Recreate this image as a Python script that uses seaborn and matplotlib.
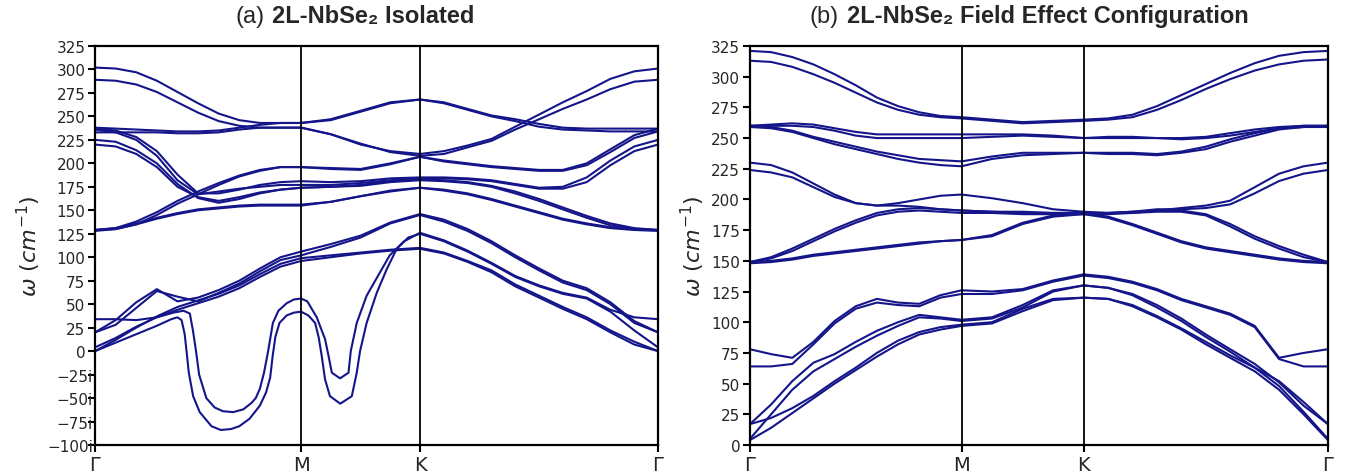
import pandas as pd
import matplotlib
matplotlib.use("Agg")
import matplotlib.pyplot as plt
import seaborn as sns

# high-symmetry points along the path (reciprocal distance)
HS_POS = [0.0, 1.0, 1.577, 2.732]
HS_LABELS = ["Γ", "M", "K", "Γ"]

# common q sampling along Γ-M-K-Γ
Q_GRID = [0.0, 0.1, 0.2, 0.3, 0.4, 0.5, 0.6, 0.7, 0.8, 0.9, 1.0,
          1.144, 1.289, 1.433, 1.577,
          1.693, 1.808, 1.924, 2.039, 2.155, 2.270, 2.386, 2.501, 2.617, 2.732]

# ---- (a) isolated bilayer: bands on the common grid (cm^-1) ----
iso_top1 = [302, 301, 297, 288, 276, 264, 253, 246, 243, 243, 243, 247, 256, 265, 268, 265, 258, 251, 247, 242, 238, 237, 237, 237, 237]
iso_flat1 = [238, 237, 236, 235, 234, 234, 235, 238, 241, 243, 243, 246, 255, 264, 268, 264, 257, 250, 245, 239, 236, 235, 234, 234, 234]
iso_top2 = [289, 288, 284, 276, 265, 254, 245, 240, 238, 238, 238, 231, 220, 213, 210, 213, 219, 226, 239, 252, 265, 277, 290, 298, 301]
iso_flat2 = [233, 233, 233, 233, 232, 232, 233, 236, 238, 238, 238, 231, 221, 212, 208, 210, 217, 224, 236, 247, 258, 268, 279, 287, 289]
iso_r1 = [129, 131, 138, 148, 160, 170, 179, 187, 193, 196, 196, 195, 194, 200, 207, 203, 200, 197, 195, 193, 193, 200, 215, 230, 237]
iso_r2 = [129, 130, 135, 145, 157, 167, 177, 186, 192, 196, 196, 194, 193, 199, 207, 202, 199, 196, 194, 192, 192, 198, 212, 227, 234]
iso_d1 = [237, 235, 228, 213, 188, 168, 168, 172, 177, 180, 181, 180, 181, 184, 185, 185, 184, 182, 178, 174, 175, 185, 203, 218, 225]
iso_d2 = [236, 233, 225, 208, 182, 167, 170, 173, 175, 177, 177, 177, 179, 182, 184, 184, 183, 181, 177, 173, 173, 180, 198, 213, 220]
iso_d3 = [225, 223, 214, 200, 178, 163, 158, 162, 168, 172, 174, 175, 177, 181, 183, 182, 180, 176, 170, 162, 153, 144, 136, 131, 129]
iso_d4 = [220, 218, 210, 196, 175, 164, 160, 164, 169, 172, 174, 175, 176, 180, 182, 181, 179, 175, 168, 160, 151, 142, 134, 130, 129]
iso_s1 = [129, 131, 136, 142, 147, 151, 153, 155, 156, 156, 156, 159, 165, 171, 174, 172, 168, 162, 155, 148, 141, 136, 132, 130, 129]
iso_s2 = [128, 130, 135, 141, 146, 150, 152, 154, 155, 155, 155, 159, 165, 170, 174, 171, 167, 161, 154, 147, 140, 135, 131, 129, 128]
iso_l1 = [20, 33, 52, 66, 53, 57, 65, 75, 88, 100, 106, 114, 123, 137, 146, 140, 130, 117, 102, 88, 75, 67, 52, 32, 20]
iso_l2 = [20, 28, 46, 64, 58, 53, 62, 72, 85, 97, 102, 111, 121, 136, 145, 138, 128, 115, 100, 86, 73, 65, 50, 30, 20]
iso_l3 = [0, 12, 25, 37, 47, 54, 61, 70, 82, 93, 99, 102, 105, 108, 110, 105, 96, 86, 71, 59, 47, 36, 22, 10, 0]
iso_l4 = [4, 14, 26, 36, 44, 51, 58, 67, 79, 90, 96, 100, 104, 107, 109, 104, 95, 84, 69, 57, 45, 34, 20, 7, 0]

# soft (imaginary, drawn negative) branches need their own, denser sampling
soft_outer_q = [0.0, 0.1, 0.2, 0.3, 0.37, 0.40, 0.42, 0.435, 0.444, 0.455,
                0.476, 0.508, 0.565, 0.61, 0.66, 0.70, 0.75, 0.80, 0.83, 0.85,
                0.862, 0.875, 0.895, 0.93, 0.965, 1.0,
                1.035, 1.068, 1.085, 1.10, 1.116, 1.14, 1.19, 1.246, 1.27, 1.286,
                1.318, 1.367, 1.415, 1.464, 1.52, 1.577,
                1.693, 1.808, 1.924, 2.039, 2.155, 2.270, 2.386, 2.501, 2.617, 2.732]
soft_outer_w = [0, 9, 18, 27, 34, 36, 33, 18, 0, -23,
                -48, -65, -80, -84, -83, -80, -72, -58, -44, -28,
                -5, 15, 30, 38, 41, 42,
                38, 30, 15, -5, -30, -48, -56, -48, -23, 0,
                30, 62, 87, 109, 121, 125,
                117, 106, 93, 79, 69, 61, 56, 42, 22, 4]
soft_inner_q = [0.0, 0.1, 0.2, 0.3, 0.38, 0.43, 0.46, 0.475, 0.49, 0.505,
                0.54, 0.58, 0.62, 0.67, 0.72, 0.76, 0.78, 0.80, 0.82, 0.84,
                0.863, 0.89, 0.93, 0.965, 1.0,
                1.03, 1.076, 1.10, 1.116, 1.133, 1.149, 1.189, 1.23, 1.241, 1.27,
                1.318, 1.383, 1.43, 1.50, 1.577,
                1.693, 1.808, 1.924, 2.039, 2.155, 2.270, 2.386, 2.501, 2.617, 2.732]
soft_inner_w = [34, 34, 33, 36, 41, 43, 40, 22, 0, -25,
                -50, -60, -64, -65, -62, -55, -50, -40, -23, 0,
                30, 43, 51, 55, 56,
                53, 36, 22, 13, -5, -23, -29, -23, 0, 30,
                59, 84, 102, 117, 126,
                118, 107, 94, 80, 70, 62, 57, 44, 36, 34]

# ---- (b) field effect configuration ----
fe_r1 = [321, 320, 316, 310, 302, 293, 283, 276, 271, 268, 267, 265, 263, 264, 265, 266, 269, 276, 285, 294, 303, 311, 317, 320, 321]
fe_r2 = [313, 312, 308, 302, 295, 287, 279, 273, 269, 267, 266, 264, 262, 263, 264, 265, 267, 273, 281, 290, 298, 305, 310, 313, 314]
fe_u1 = [260, 261, 262, 261, 258, 255, 253, 253, 253, 253, 253, 253, 253, 252, 250, 251, 251, 250, 250, 251, 254, 257, 259, 260, 260]
fe_u2 = [260, 260, 260, 259, 256, 252, 250, 250, 250, 250, 250, 251, 252, 251, 250, 250, 250, 250, 249, 250, 252, 255, 258, 259, 260]
fe_v1 = [260, 259, 256, 251, 247, 243, 239, 236, 233, 232, 231, 235, 238, 238, 238, 238, 238, 237, 239, 243, 249, 254, 258, 260, 260]
fe_v2 = [259, 258, 255, 250, 245, 241, 237, 233, 230, 228, 227, 233, 236, 237, 238, 237, 237, 236, 238, 241, 247, 252, 257, 259, 259]
fe_w1 = [230, 228, 222, 213, 204, 197, 195, 197, 200, 203, 204, 201, 197, 192, 190, 189, 189, 191, 193, 195, 199, 210, 221, 227, 230]
fe_w2 = [224, 222, 218, 210, 202, 197, 195, 195, 194, 192, 191, 190, 190, 189, 189, 189, 190, 192, 192, 193, 196, 205, 215, 221, 224]
fe_x1 = [149, 153, 160, 168, 176, 183, 189, 192, 193, 192, 191, 190, 189, 189, 189, 189, 190, 191, 191, 188, 180, 170, 162, 155, 149]
fe_x2 = [149, 152, 158, 166, 174, 181, 187, 190, 191, 190, 189, 189, 188, 188, 188, 188, 189, 190, 190, 187, 178, 168, 160, 153, 149]
fe_y1 = [149, 150, 152, 155, 157, 159, 161, 163, 165, 166, 167, 171, 181, 187, 189, 186, 180, 173, 166, 161, 158, 155, 152, 150, 149]
fe_y2 = [148, 149, 151, 154, 156, 158, 160, 162, 164, 166, 167, 170, 180, 186, 188, 185, 179, 172, 165, 160, 157, 154, 151, 149, 148]
fe_a1 = [78, 74, 71, 84, 101, 113, 119, 116, 115, 122, 126, 125, 127, 134, 139, 137, 133, 127, 119, 113, 107, 97, 71, 75, 78]
fe_a2 = [64, 64, 66, 82, 99, 111, 116, 114, 113, 120, 123, 123, 126, 133, 138, 136, 132, 126, 118, 112, 106, 96, 70, 64, 64]
fe_b1 = [17, 33, 52, 67, 74, 84, 93, 100, 106, 104, 102, 104, 114, 126, 130, 128, 123, 114, 103, 90, 78, 66, 51, 32, 17]
fe_b2 = [5, 25, 45, 60, 70, 80, 89, 97, 104, 103, 101, 103, 112, 125, 130, 128, 122, 112, 101, 88, 76, 63, 48, 27, 5]
fe_c1 = [17, 22, 30, 40, 52, 63, 75, 85, 92, 96, 98, 100, 111, 119, 120, 119, 114, 105, 95, 84, 73, 63, 52, 35, 17]
fe_c2 = [4, 14, 26, 38, 50, 61, 72, 82, 90, 94, 97, 99, 109, 118, 120, 119, 113, 104, 94, 82, 71, 60, 45, 25, 4]

LINE_COLOR = "#15158a"


def bands_to_frame(bands):
    # bands: list of (name, q, freq)
    parts = [pd.DataFrame({"q": q, "freq": w, "band": name}) for name, q, w in bands]
    return pd.concat(parts, ignore_index=True)


iso_grid = {"top1": iso_top1, "flat1": iso_flat1, "top2": iso_top2, "flat2": iso_flat2,
            "r1": iso_r1, "r2": iso_r2, "d1": iso_d1, "d2": iso_d2, "d3": iso_d3, "d4": iso_d4,
            "s1": iso_s1, "s2": iso_s2, "l1": iso_l1, "l2": iso_l2, "l3": iso_l3, "l4": iso_l4}
iso_df = bands_to_frame([(k, Q_GRID, v) for k, v in iso_grid.items()]
                        + [("soft_outer", soft_outer_q, soft_outer_w),
                           ("soft_inner", soft_inner_q, soft_inner_w)])

fe_grid = {"r1": fe_r1, "r2": fe_r2, "u1": fe_u1, "u2": fe_u2, "v1": fe_v1, "v2": fe_v2,
           "w1": fe_w1, "w2": fe_w2, "x1": fe_x1, "x2": fe_x2, "y1": fe_y1, "y2": fe_y2,
           "a1": fe_a1, "a2": fe_a2, "b1": fe_b1, "b2": fe_b2, "c1": fe_c1, "c2": fe_c2}
fe_df = bands_to_frame([(k, Q_GRID, v) for k, v in fe_grid.items()])

sns.set_theme(style="ticks")
plt.rcParams["font.family"] = ["DejaVu Sans"]
plt.rcParams["mathtext.fontset"] = "dejavusans"

fig = plt.figure(figsize=(13.52, 4.77), dpi=100)
ax_a = fig.add_axes([0.0703, 0.065, 0.4164, 0.8365])
ax_b = fig.add_axes([0.5547, 0.065, 0.4275, 0.8365])


def style_panel(ax, df, ymin):
    sns.lineplot(data=df, x="q", y="freq", units="band", estimator=None, sort=False,
                 color=LINE_COLOR, lw=1.5, ax=ax, legend=False)
    for x in HS_POS[1:-1]:
        ax.axvline(x, color="black", lw=1.3, zorder=3)
    ax.set_xlim(HS_POS[0], HS_POS[-1])
    ax.set_ylim(ymin, 325)
    ax.set_xticks(HS_POS)
    ax.set_xticklabels(HS_LABELS, fontsize=14)
    ticks = list(range(ymin, 326, 25))
    ax.set_yticks(ticks)
    ax.set_yticklabels([str(t) if t >= 0 else "\u2212%di" % abs(t) for t in ticks], fontsize=11)
    ax.tick_params(direction="out", length=5, width=1.5, pad=2, color="black")
    for t, tick in zip(ticks, ax.yaxis.get_major_ticks()):
        if t < 0:
            tick.set_pad(-3.5)
    for sp in ax.spines.values():
        sp.set_visible(True)
        sp.set_color("black")
        sp.set_linewidth(1.6)
    ax.set_xlabel("")
    ax.set_ylabel(r"$\omega\ (cm^{-1})$", fontsize=16, labelpad=3)


def panel_title(ax, tag, x_tag, text, x_text):
    fam = ["Liberation Sans", "DejaVu Sans"]
    ax.text(x_tag, 1.06, tag, transform=ax.transAxes, ha="left", va="baseline",
            fontsize=17, family=fam)
    ax.text(x_text, 1.06, text, transform=ax.transAxes, ha="left", va="baseline",
            fontsize=17, fontweight="bold", family=fam)


style_panel(ax_a, iso_df, -100)
style_panel(ax_b, fe_df, 0)
panel_title(ax_a, "(a)", 0.2487, "2L-NbSe\u2082 Isolated", 0.3144)
panel_title(ax_b, "(b)", 0.1038, "2L-NbSe\u2082 Field Effect Configuration", 0.1678)

fig.savefig("out.png", dpi=100)
plt.close(fig)
